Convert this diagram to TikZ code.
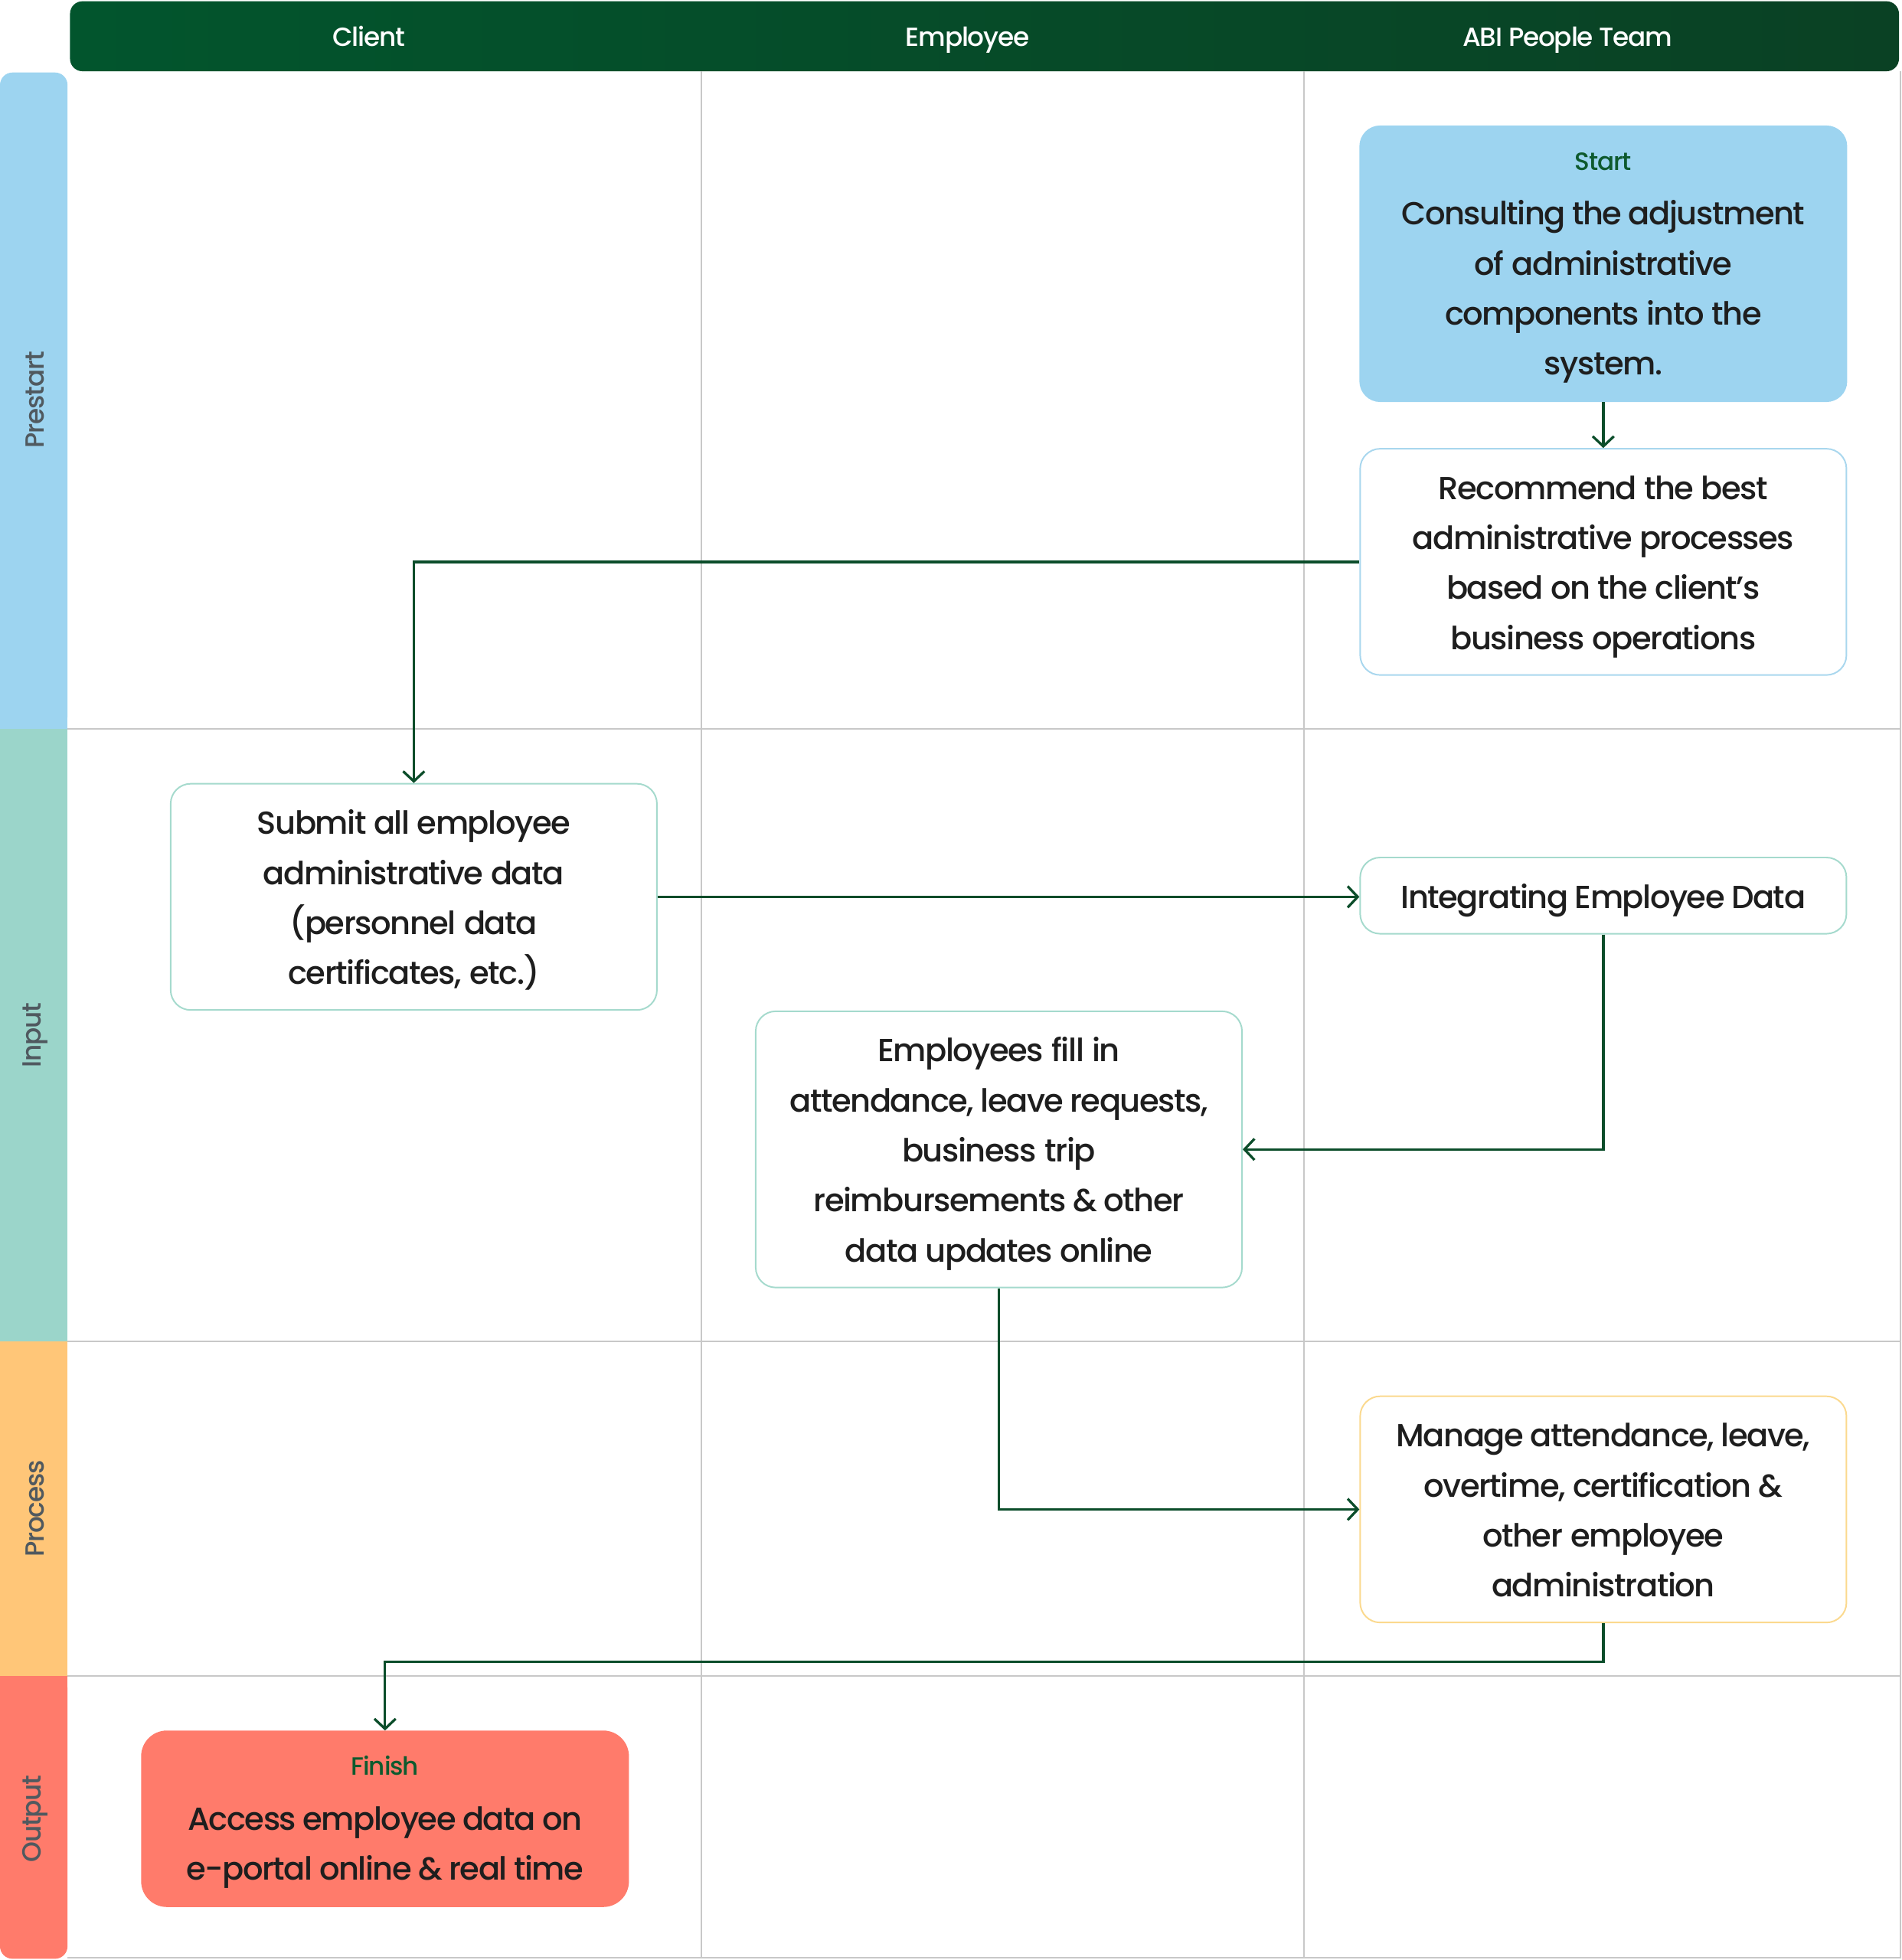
\documentclass[tikz,border=0pt]{standalone}
\usepackage{fontspec}
\setmainfont{Poppins}[UprightFont={* Medium}, LetterSpace=-3.5]
\usetikzlibrary{arrows.meta}
\definecolor{hdrL}{HTML}{02552D}
\definecolor{hdrR}{HTML}{0A4124}
\definecolor{preC}{HTML}{9DD4F0}
\definecolor{inC}{HTML}{9BD5CA}
\definecolor{proC}{HTML}{FFC678}
\definecolor{outC}{HTML}{FF7B6B}
\definecolor{gridC}{HTML}{C8C8C8}
\definecolor{blueBd}{HTML}{A9D7EE}
\definecolor{tealBd}{HTML}{A5DACD}
\definecolor{orBd}{HTML}{FBD98E}
\definecolor{txtC}{HTML}{1E1E1E}
\definecolor{lblG}{HTML}{0E5A2E}
\definecolor{flowC}{HTML}{0B4D2A}
\definecolor{laneTxt}{HTML}{50595F}
\newcommand{\tightspace}{\spaceskip=4.5pt plus 1pt minus 1pt\relax}
\tikzset{
  gridline/.style={draw=gridC, line width=1.3pt},
  hdrtext/.style={text=white, font=\fontsize{21}{24}\selectfont, inner sep=0pt, anchor=base},
  lanetext/.style={text=laneTxt, font=\fontsize{21}{22}\selectfont, rotate=90, inner sep=0pt},
  stepbox/.style={rectangle, rounded corners=16pt, line width=1.2pt, minimum width=389pt,
    text width=380pt, align=center, inner sep=0pt, text=txtC,
    font=\fontsize{25.5}{40}\selectfont, execute at begin node={\tightspace}},
  flow/.style={draw=flowC, line width=2pt, -{Straight Barb[length=8pt,width=17pt,line width=2pt]}},
}
\newcommand{\ls}{\rule[-10pt]{0pt}{40pt}}
\newcommand{\toplabel}[1]{{\rule{0pt}{24pt}\fontsize{20}{20}\selectfont\color{lblG}#1}\\[4pt]}
\begin{document}
\begin{tikzpicture}[x=1pt,y=-1pt]
\useasboundingbox (0,0) rectangle (1521,1568);
% header
\shade[left color=hdrL, right color=hdrR, rounded corners=10pt] (56,1) rectangle (1519,57);
\node[hdrtext] (hc) at (295,37) {Client};
\node[hdrtext] (he) at (774,37) {Employee};
\node[hdrtext] (ha) at (1254,37) {ABI People Team};
% lane bars
\fill[preC, rounded corners=10pt] (0,58) rectangle (54,583);
\fill[preC] (0,300) rectangle (54,583);
\fill[inC] (0,583) rectangle (54,1073);
\fill[proC] (0,1073) rectangle (54,1341);
\fill[outC, rounded corners=10pt] (0,1341) rectangle (54,1567);
\fill[outC] (0,1341) rectangle (54,1450);
\node[lanetext] (lp) at (28,320) {Prestart};
\node[lanetext] (li) at (28,828) {Input};
\node[lanetext] (lr) at (28,1207) {Process};
\node[lanetext] (lo) at (28,1455) {Output};
% grid
\draw[gridline] (54,583) -- (1520,583);
\draw[gridline] (54,1073) -- (1520,1073);
\draw[gridline] (54,1341) -- (1520,1341);
\draw[gridline] (54,1566) -- (1520,1566);
\draw[gridline] (561,57) -- (561,1567);
\draw[gridline] (1043,57) -- (1043,1567);
\draw[gridline] (1520,57) -- (1520,1567);
% boxes
\node[stepbox, draw=preC, fill=preC, minimum height=220pt] (start) at (1282.5,211)
  {\toplabel{Start}\ls Consulting the adjustment\\\ls of administrative\\\ls components into the\\\ls system.};
\node[stepbox, draw=blueBd, fill=white, minimum height=181pt] (rec) at (1282.5,449.5)
  {\ls Recommend the best\\\ls administrative processes\\\ls based on the client’s\\\ls business operations};
\node[stepbox, draw=tealBd, fill=white, minimum height=181pt] (sub) at (331,717.5)
  {\ls Submit all employee\\\ls administrative data\\\ls (personnel data\\\ls certificates, etc.)};
\node[stepbox, draw=tealBd, fill=white, minimum height=61pt] (integ) at (1282.5,716.5)
  {\ls Integrating Employee Data};
\node[stepbox, draw=tealBd, fill=white, minimum height=221pt] (emp) at (799,919.5)
  {\ls Employees fill in\\\ls attendance, leave requests,\\\ls business trip\\\ls reimbursements \& other\\\ls data updates online};
\node[stepbox, draw=orBd, fill=white, minimum height=181pt] (man) at (1282.5,1207.5)
  {\ls Manage attendance, leave,\\\ls overtime, certification \&\\\ls other employee\\\ls administration};
\node[stepbox, draw=outC, fill=outC, minimum height=140pt, rounded corners=20pt] (fin) at (308,1455)
  {\toplabel{Finish}\ls Access employee data on\\\ls e-portal online \& real time};
% connectors
\draw[flow] (start) -- (rec);
\draw[flow] (rec.west) -| (sub.north);
\draw[flow] (sub.east) -- (sub.east -| integ.west);
\draw[flow] (integ.south) |- (emp.east);
\draw[flow] (emp.south) |- (man.west);
\coordinate (mbend) at ([yshift=-31pt]man.south);
\draw[flow] (man.south) -- (mbend) -| (fin.north);
\end{tikzpicture}
\end{document}
